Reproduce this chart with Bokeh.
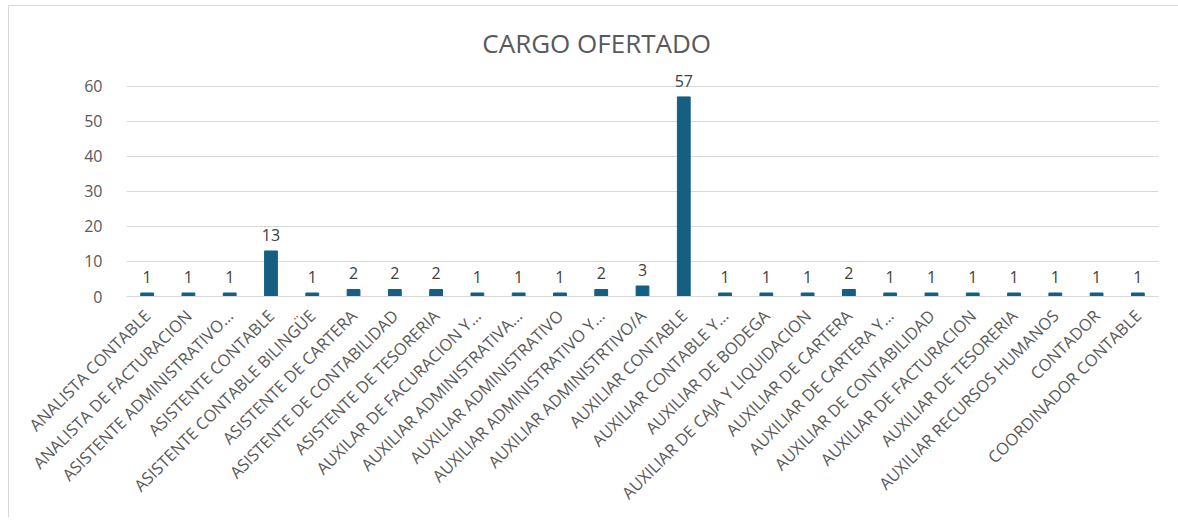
import math
from bokeh.plotting import figure
from bokeh.models import ColumnDataSource, LabelSet, Label, Range1d, FixedTicker
from bokeh.core.properties import value
from bokeh.embed import file_html
from bokeh.resources import INLINE

categories = [
    "ANALISTA CONTABLE", "ANALISTA DE FACTURACION", "ASISTENTE ADMINISTRATIVO…",
    "ASISTENTE CONTABLE", "ASISTENTE CONTABLE BILINGÜE", "ASISTENTE DE CARTERA",
    "ASISTENTE DE CONTABILIDAD", "ASISTENTE DE TESORERIA", "AUXILAR DE FACURACION Y…",
    "AUXILIAR ADMINISTRATIVA…", "AUXILIAR ADMINISTRATIVO", "AUXILIAR ADMINISTRATIVO Y…",
    "AUXILIAR ADMINISTRTIVO/A", "AUXILIAR CONTABLE", "AUXILIAR CONTABLE Y…",
    "AUXILIAR DE BODEGA", "AUXILIAR DE CAJA Y LIQUIDACION", "AUXILIAR DE CARTERA",
    "AUXILIAR DE CARTERA Y…", "AUXILIAR DE CONTABILIDAD", "AUXILIAR DE FACTURACION",
    "AUXILIAR DE TESORERIA", "AUXILIAR RECURSOS HUMANOS", "CONTADOR", "COORDINADOR CONTABLE",
]
values = [1, 1, 1, 13, 1, 2, 2, 2, 1, 1, 1, 2, 3, 57, 1, 1, 1, 2, 1, 1, 1, 1, 1, 1, 1]
y_ticks = [0, 10, 20, 30, 40, 50, 60]
title_text = "CARGO OFERTADO"

FONT = "Open Sans"
GRAY = "#595959"

src = ColumnDataSource(dict(cat=categories, val=values, lab=[str(v) for v in values]))

p = figure(x_range=categories, y_range=Range1d(0, 79.4), width=1170, height=512,
           output_backend="svg", toolbar_location=None,
           min_border_left=117, min_border_right=21, min_border_top=12, min_border_bottom=222)

p.vbar(x="cat", top="val", width=0.31, source=src, color="#156082")

labels = LabelSet(x="cat", y="val", text="lab", source=src, text_align="center",
                  text_baseline="bottom", y_offset=10, text_font_size="16px",
                  text_color="#404040", text_font=value(FONT))
p.add_layout(labels)

title = Label(x=11.39, y=72.3, text=title_text,
              text_align="center", text_baseline="middle", text_font=FONT,
              text_font_size="26px", text_color=GRAY)
p.add_layout(title)

p.xaxis.major_label_orientation = math.pi / 4
p.xaxis.major_label_text_font = FONT
p.xaxis.major_label_text_font_size = "16.5px"
p.xaxis.major_label_text_color = GRAY
p.xaxis.axis_line_color = "#d9d9d9"
p.xaxis.major_tick_line_color = None
p.xaxis.minor_tick_line_color = None
p.xaxis.major_label_standoff = 10

p.yaxis.ticker = FixedTicker(ticks=y_ticks)
p.yaxis.axis_line_color = None
p.yaxis.major_tick_line_color = None
p.yaxis.minor_tick_line_color = None
p.yaxis.major_label_text_font = FONT
p.yaxis.major_label_text_font_size = "16px"
p.yaxis.major_label_text_color = GRAY
p.yaxis.major_label_standoff = 18

p.xgrid.grid_line_color = None
p.ygrid.grid_line_color = "#d9d9d9"
p.ygrid.ticker = FixedTicker(ticks=y_ticks)
p.outline_line_color = None
p.styles = {"border-left": "1px solid #d9d9d9", "border-top": "1px solid #d9d9d9",
            "margin-left": "8px", "margin-top": "5px"}

open("out.html", "w").write(file_html(p, INLINE))
